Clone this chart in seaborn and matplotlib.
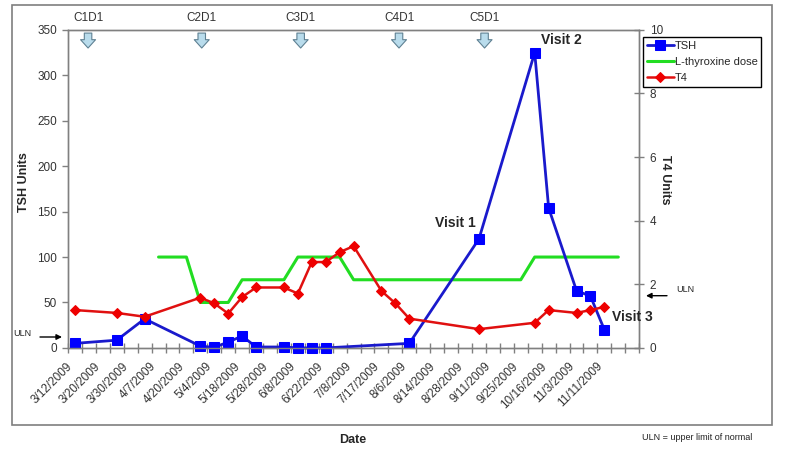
import numpy as np
import pandas as pd
import seaborn as sns
import matplotlib.pyplot as plt
from matplotlib.patches import Rectangle
from matplotlib.transforms import ScaledTranslation

# category axis: 41 visit slots, every other one labelled
n_cat = 41
date_labels = ['3/12/2009', '3/20/2009', '3/30/2009', '4/7/2009', '4/20/2009', '5/4/2009',
               '5/18/2009', '5/28/2009', '6/8/2009', '6/22/2009', '7/8/2009', '7/17/2009',
               '8/6/2009', '8/14/2009', '8/28/2009', '9/11/2009', '9/25/2009', '10/16/2009',
               '11/3/2009', '11/11/2009']

tsh_idx = [0, 3, 5, 9, 10, 11, 12, 13, 15, 16, 17, 18, 24, 29, 33, 34, 36, 37, 38]
tsh_val = [5, 8.5, 32, 2, 0.5, 6.5, 13, 1, 1, 0, 0, 0, 5, 120, 325, 154, 63, 57, 20]

t4_idx = [0, 3, 5, 9, 10, 11, 12, 13, 15, 16, 17, 18, 19, 20, 22, 23, 24, 29, 33, 34, 36, 37, 38]
t4_val = [1.19, 1.10, 0.98, 1.58, 1.40, 1.08, 1.60, 1.90, 1.90, 1.71, 2.70, 2.70, 3.01, 3.20,
          1.79, 1.40, 0.92, 0.59, 0.79, 1.19, 1.10, 1.19, 1.29]

dose_idx = list(range(6, 40))
dose_val = [100] * 3 + [50] * 3 + [75] * 4 + [100] * 4 + [75] * 13 + [100] * 7

cycle_names = ['C1D1', 'C2D1', 'C3D1', 'C4D1', 'C5D1']
cycle_pos = [0.94, 9.1, 16.2, 23.26, 29.4]

tsh_df = pd.DataFrame({'cat': tsh_idx, 'TSH': tsh_val})
t4_df = pd.DataFrame({'cat': t4_idx, 'T4': t4_val})
dose_df = pd.DataFrame({'cat': dose_idx, 'dose': dose_val})

sns.set_style('white')
plt.rcParams['font.family'] = ['Liberation Sans', 'DejaVu Sans']

fig, ax = plt.subplots(figsize=(8, 4.53), dpi=100)
fig.subplots_adjust(left=0.085, right=0.799, bottom=0.232, top=0.934)
ax2 = ax.twinx()

sns.lineplot(data=tsh_df, x='cat', y='TSH', ax=ax, color='#1a1acc', linewidth=2,
             marker='s', markersize=7, markerfacecolor='#0000ff', markeredgecolor='#0000ff',
             label='TSH', clip_on=False, zorder=4)
sns.lineplot(data=dose_df, x='cat', y='dose', ax=ax, color='#22dd22', linewidth=2.2,
             label='L-thyroxine dose', zorder=3)
sns.lineplot(data=t4_df, x='cat', y='T4', ax=ax2, color='#e01010', linewidth=1.8,
             marker='D', markersize=5, markerfacecolor='#ee0000', markeredgecolor='#ee0000',
             label='T4', clip_on=False, zorder=4)

ax.set_xlim(-0.5, n_cat - 0.5)
ax.set_ylim(0, 350)
ax2.set_ylim(0, 10)
ax.set_yticks(np.arange(0, 351, 50))
ax2.set_yticks(np.arange(0, 11, 2))
ax.set_xticks(np.arange(0, 2 * len(date_labels), 2))
ax.set_xticklabels(date_labels, rotation=45, ha='right', va='top', rotation_mode='anchor')
ax.set_xticks(np.arange(-0.5, n_cat, 1), minor=True)
ax.set_xlabel('')
ax.set_ylabel('')
ax2.set_ylabel('')

for a in (ax, ax2):
    for s in a.spines.values():
        s.set_color('#808080')
        s.set_linewidth(1)
ax.tick_params(axis='x', which='major', length=0, pad=9, labelsize=8.5, labelcolor='#333333')
ax.tick_params(axis='x', which='minor', direction='inout', length=7, width=1, color='#808080', bottom=True)
ax.tick_params(axis='y', direction='out', length=4, width=1, color='#808080', pad=4,
               labelsize=8.5, labelcolor='#333333', left=True)
ax2.tick_params(axis='y', direction='inout', length=7, width=1, color='#808080', pad=4,
                labelsize=8.5, labelcolor='#333333', right=True)
for lbl in ax.get_xticklabels():
    lbl.set_transform(lbl.get_transform() + ScaledTranslation(-6 / 72, 0, fig.dpi_scale_trans))

# cycle day markers above the plot
for name, pos in zip(cycle_names, cycle_pos):
    ax.annotate('', xy=(pos, 0.943), xytext=(pos, 0.99), xycoords=('data', 'axes fraction'),
                arrowprops=dict(arrowstyle='simple,head_length=0.5,head_width=0.9,tail_width=0.45',
                                fc='#b9dcec', ec='#5f8193', lw=0.8, shrinkA=0, shrinkB=0,
                                mutation_scale=12), annotation_clip=False)
    ax.annotate(name, xy=(pos, 1.0), xycoords=('data', 'axes fraction'), xytext=(0, 12),
                textcoords='offset pixels', ha='center', va='center', fontsize=8.5,
                color='#333333', annotation_clip=False)

fig.text(561.7 / 800, 1 - 40 / 453, 'Visit 2', ha='center', va='center', fontsize=10, fontweight='bold')
fig.text(455 / 800, 1 - 223 / 453, 'Visit 1', ha='center', va='center', fontsize=10, fontweight='bold')
fig.text(632 / 800, 1 - 317 / 453, 'Visit 3', ha='center', va='center', fontsize=10, fontweight='bold')

fig.text(24 / 800, 1 - 182 / 453, 'TSH Units', rotation=90, ha='center', va='center',
         fontsize=9, fontweight='bold')
fig.text(665 / 800, 1 - 180 / 453, 'T4 Units', rotation=270, ha='center', va='center',
         fontsize=9, fontweight='bold')
fig.text(353 / 800, 1 - 440 / 453, 'Date', ha='center', va='center', fontsize=9, fontweight='bold')
fig.text(697 / 800, 1 - 438 / 453, 'ULN = upper limit of normal', ha='center', va='center',
         fontsize=6.5, color='#222222')

# ULN markers
fig.text(22 / 800, 1 - 333 / 453, 'ULN', ha='center', va='center', fontsize=6.5, color='#222222')
ax.annotate('', xy=(62 / 800, 1 - 337 / 453), xytext=(40 / 800, 1 - 337 / 453),
            xycoords='figure fraction', arrowprops=dict(arrowstyle='-|>', color='black', lw=1,
                                                        mutation_scale=8, shrinkA=0, shrinkB=0))
fig.text(685 / 800, 1 - 290 / 453, 'ULN', ha='center', va='center', fontsize=6.5, color='#222222')
ax.annotate('', xy=(646 / 800, 1 - 295.7 / 453), xytext=(667 / 800, 1 - 295.7 / 453),
            xycoords='figure fraction', arrowprops=dict(arrowstyle='-|>', color='black', lw=1,
                                                        mutation_scale=8, shrinkA=0, shrinkB=0))

# legend
h1, l1 = ax.get_legend_handles_labels()
h2, l2 = ax2.get_legend_handles_labels()
ax.get_legend().remove()
ax2.get_legend().remove()
fig.legend(h1 + h2, l1 + l2, loc='upper left', bbox_to_anchor=(643 / 800, 1 - 36.7 / 453),
           bbox_transform=fig.transFigure, borderaxespad=0, fancybox=False, framealpha=1,
           edgecolor='black', fontsize=8, handlelength=2.4, handletextpad=0.1,
           labelspacing=0.55, borderpad=0.35)

fig.add_artist(Rectangle((12 / 800, 1 - 425 / 453), 760 / 800, 420 / 453, transform=fig.transFigure,
                         fill=False, ec='#7f7f7f', lw=1.2))

fig.savefig('out.png', dpi=100)
